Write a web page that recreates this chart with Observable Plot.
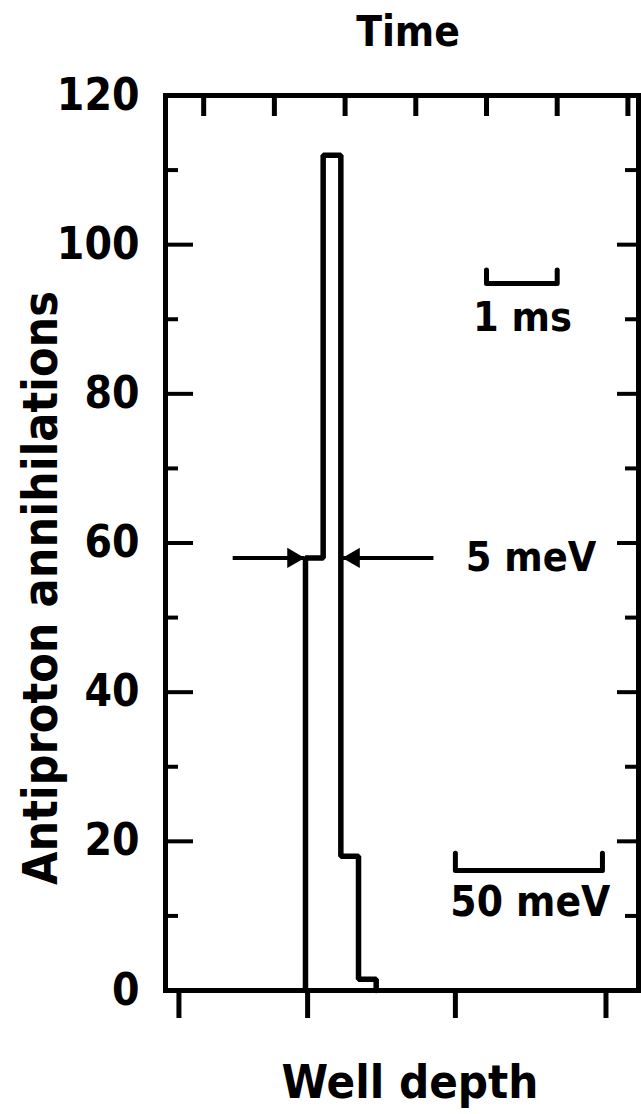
<!DOCTYPE html>
<html>
<head>
<meta charset="utf-8">
<script src="https://cdn.jsdelivr.net/npm/d3@7"></script>
<script src="https://cdn.jsdelivr.net/npm/@observablehq/plot@0.6"></script>
<style>
  html, body { margin: 0; padding: 0; background: #fff; }
  #chart svg { display: block; }
</style>
</head>
<body>
<div id="chart"></div>
<script>
// ---- data (x in ms along the time axis, y in counts) ----
const yTicksMajor = [0, 20, 40, 60, 80, 100, 120];
const yTicksMinor = [10, 30, 50, 70, 90, 110];
const timeTicks = [0, 1, 2, 3, 4, 5, 6];            // top axis, 1 ms apart
const depthTicks = [-0.35, 1.47, 3.56, 5.69];        // bottom "Well depth" ticks (positions on time axis)
const binStart = [1.44, 1.69, 1.94, 2.19];           // histogram bin starts (ms)
const counts = [58, 112, 18, 1.5];                   // antiproton annihilations per bin
const binWidth = 0.25;
const fwhmLevel = 58;
const arrowLeft = [0.41, 1.42];                       // shaft start, tip
const arrowRight = [3.25, 1.97];
const msBar = {x1: 4.0, x2: 5.0, y: 94.8, tip: 96.6, label: "1 ms", lx: 4.51, ly: 90.2};
const meVBar = {x1: 3.56, x2: 5.64, y: 16.1, tip: 18.4, label: "50 meV", lx: 4.62, ly: 11.8};
const fwhmLabel = {label: "5 meV", lx: 4.63, ly: 58};
const xTitle = "Time";
const xTitle2 = "Well depth";
const yTitle = "Antiproton annihilations";

// ---- derived ----
const stepPts = [{x: binStart[0], y: 0}]
  .concat(binStart.map((x, i) => ({x, y: counts[i]})))
  .concat([{x: binStart[binStart.length - 1] + binWidth, y: 0}]);
const bracket = b => [{x: b.x1, y: b.tip}, {x: b.x1, y: b.y}, {x: b.x2, y: b.y}, {x: b.x2, y: b.tip}];

const FONT = "'Liberation Sans Narrow', 'DejaVu Sans Condensed', 'Liberation Sans', sans-serif";
const txt = {fontFamily: FONT, fontWeight: "bold", fill: "black", textAnchor: "middle", lineAnchor: "middle"};

const chart = Plot.plot({
  width: 641,
  height: 1114,
  marginLeft: 165,
  marginRight: 3,
  marginTop: 95,
  marginBottom: 124,
  style: {fontFamily: FONT, fontWeight: "bold", color: "black", background: "white"},
  x: {domain: [-0.54, 6.15]},
  y: {domain: [0, 120]},
  marks: [
    Plot.frame({stroke: "black", strokeWidth: 5}),
    // left axis
    Plot.axisY({anchor: "left", ticks: yTicksMajor, tickSize: -28, tickFormat: () => "", strokeWidth: 4, label: null}),
    Plot.axisY({anchor: "left", ticks: yTicksMinor, tickSize: -13, tickFormat: () => "", strokeWidth: 4, label: null}),
    Plot.axisY({anchor: "left", ticks: yTicksMajor, tickSize: 0, tickPadding: 26, fontSize: 44, fontFamily: FONT, fontWeight: "bold", label: null}),
    // right axis (ticks only)
    Plot.axisY({anchor: "right", ticks: yTicksMajor, tickSize: -22, tickFormat: () => "", strokeWidth: 4, label: null}),
    Plot.axisY({anchor: "right", ticks: yTicksMinor, tickSize: -14, tickFormat: () => "", strokeWidth: 4, label: null}),
    // top time axis
    Plot.axisX({anchor: "top", ticks: timeTicks, tickSize: -20, tickFormat: () => "", strokeWidth: 5, label: null}),
    // bottom well depth axis
    Plot.axisX({anchor: "bottom", ticks: depthTicks, tickSize: 28, tickFormat: () => "", strokeWidth: 5, label: null}),
    // histogram
    Plot.line(stepPts, {x: "x", y: "y", curve: "step-after", stroke: "black", strokeWidth: 5.5, strokeLinejoin: "miter"}),
    // FWHM arrows
    Plot.link([arrowLeft, arrowRight], {x1: d => d[0], x2: d => d[1], y1: fwhmLevel, y2: fwhmLevel, stroke: "black", strokeWidth: 4}),
    Plot.dot([arrowLeft[1]], {x: d => d, y: fwhmLevel, symbol: "triangle", r: 7.5, rotate: 90, dx: -11, fill: "black", stroke: "none"}),
    Plot.dot([arrowRight[1]], {x: d => d, y: fwhmLevel, symbol: "triangle", r: 7.5, rotate: -90, dx: 11, fill: "black", stroke: "none"}),
    // scale bars
    Plot.line(bracket(msBar), {x: "x", y: "y", stroke: "black", strokeWidth: 5, strokeLinecap: "round"}),
    Plot.line(bracket(meVBar), {x: "x", y: "y", stroke: "black", strokeWidth: 5, strokeLinecap: "round"}),
    Plot.text([msBar, fwhmLabel], {x: "lx", y: "ly", text: "label", fontSize: 41, ...txt}),
    Plot.text([meVBar], {x: "lx", y: "ly", text: "label", fontSize: 42, letterSpacing: 3, ...txt}),
    // titles
    Plot.text([xTitle], {frameAnchor: "top", text: d => d, dx: 6, dy: -63, fontSize: 42, letterSpacing: -1, ...txt}),
    Plot.text([xTitle2], {frameAnchor: "bottom", text: d => d, dx: 8, dy: 92, fontSize: 47, ...txt}),
    Plot.text([yTitle], {frameAnchor: "left", text: d => d, rotate: -90, dx: -124, dy: 45, fontSize: 48, letterSpacing: 4, ...txt})
  ]
});
document.getElementById("chart").appendChild(chart);
</script>
</body>
</html>
